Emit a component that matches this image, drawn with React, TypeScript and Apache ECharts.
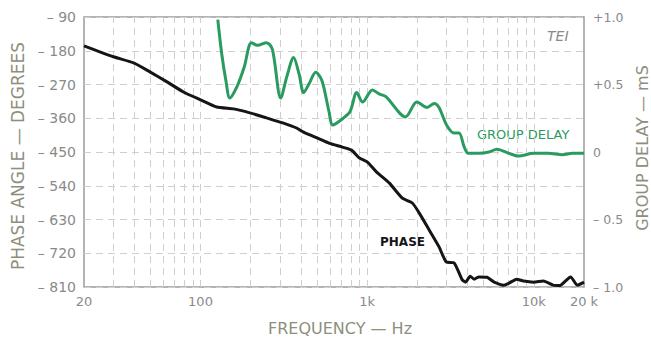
import React, { useEffect, useRef } from "react";
import * as echarts from "echarts";

const phaseFreq = [20, 30, 40, 50, 63, 79, 100, 125, 158, 189, 249, 315, 377, 415, 516, 594, 711, 805, 899, 1004, 1136, 1360, 1626, 1866, 2055, 2356, 2700, 2978, 3325, 3720, 3900, 4150, 4383, 4690, 5240, 5780, 6620, 7080, 7880, 8670, 9970, 11410, 13050, 14320, 16620, 18240, 20000];
const phaseDeg = [-167, -196, -213, -237, -263, -290, -311, -330, -335, -343, -359, -373, -386, -397, -415, -427, -437, -445, -466, -477, -503, -533, -573, -586, -613, -658, -703, -743, -746, -791, -797, -781, -789, -783, -784, -797, -805, -800, -789, -794, -797, -794, -805, -806, -783, -805, -797];

const delayFreq = [127, 134, 142, 150, 165, 183, 202, 220, 249, 270, 303, 330, 362, 390, 416, 450, 491, 535, 590, 622, 718, 790, 866, 938, 1075, 1180, 1295, 1700, 1986, 2289, 2524, 2700, 2995, 3325, 3560, 3815, 4030, 4690, 5380, 6000, 7080, 8100, 9970, 12180, 14900, 17040, 20000];
const delayMs = [0.98, 0.73, 0.53, 0.40, 0.48, 0.63, 0.81, 0.79, 0.81, 0.76, 0.40, 0.56, 0.70, 0.58, 0.44, 0.51, 0.59, 0.53, 0.30, 0.20, 0.25, 0.30, 0.44, 0.37, 0.46, 0.43, 0.41, 0.26, 0.37, 0.33, 0.36, 0.33, 0.20, 0.14, 0.14, 0.04, -0.01, -0.01, 0.00, 0.02, -0.01, -0.03, -0.01, -0.01, -0.02, -0.01, -0.01];

const xTickValues = [20, 100, 1000, 10000, 20000];
const xTickLabels = ["20", "100", "1k", "10k", "20 k"];
const gridFreqs = [30, 40, 50, 60, 70, 80, 90, 100, 200, 300, 400, 500, 600, 700, 800, 900, 1000, 2000, 3000, 4000, 5000, 6000, 7000, 8000, 9000, 10000];

const FONT = "DejaVu Sans";
const LABEL = "#8a8a8a";
const NAME = "#8d8f7c";
const GREEN = "#2a9b60";

export default function App() {
  const ref = useRef<HTMLDivElement>(null);
  useEffect(() => {
    const chart = echarts.init(ref.current!, undefined, { renderer: "svg" });
    chart.setOption({
      animation: false,
      backgroundColor: "#ffffff",
      grid: { left: 84, right: 67, top: 17, bottom: 51, outerBoundsMode: "none", containLabel: false, show: true, borderColor: "#9a9a9a", borderWidth: 1.5, backgroundColor: "transparent" },
      xAxis: {
        type: "log",
        logBase: 10,
        min: 20,
        max: 20000,
        axisLine: { show: false },
        axisTick: { show: false },
        splitLine: { show: false },
        axisLabel: {
          customValues: xTickValues,
          color: LABEL,
          fontFamily: FONT,
          fontSize: 13,
          margin: 8,
          formatter: (v: number) => {
            const i = xTickValues.findIndex((t) => Math.abs(t - v) / t < 0.01);
            return i >= 0 ? xTickLabels[i] : "";
          },
        },
        name: "FREQUENCY — Hz",
        nameLocation: "middle",
        nameGap: 33,
        nameTextStyle: { color: NAME, fontFamily: FONT, fontSize: 16, padding: [0, 0, 0, 12] },
      },
      yAxis: [
        {
          type: "value",
          min: -810,
          max: -90,
          interval: 90,
          axisLine: { show: false },
          axisTick: { show: false },
          splitLine: { show: true, lineStyle: { color: "#cfcfcf", type: [7, 5], width: 1 } },
          axisLabel: {
            color: LABEL,
            fontFamily: FONT,
            fontSize: 14,
            margin: 8,
            formatter: (v: number) => "– " + Math.abs(v),
          },
          name: "PHASE ANGLE — DEGREES",
          nameLocation: "middle",
          nameRotate: 90,
          nameGap: 57,
          nameTextStyle: { color: NAME, fontFamily: FONT, fontSize: 17, padding: [0, 8, 0, 0] },
        },
        {
          type: "value",
          min: -1,
          max: 1,
          interval: 0.5,
          position: "right",
          axisLine: { show: false },
          axisTick: { show: false },
          splitLine: { show: false },
          axisLabel: {
            color: LABEL,
            fontFamily: FONT,
            fontSize: 12.5,
            margin: 9,
            formatter: (v: number) => (v > 0 ? "+" + v.toFixed(1) : v < 0 ? "– " + Math.abs(v).toFixed(1) : "0"),
          },
          name: "GROUP DELAY — mS",
          nameLocation: "middle",
          nameRotate: 90,
          nameGap: 46,
          nameTextStyle: { color: NAME, fontFamily: FONT, fontSize: 16, padding: [0, 0, 0, 8] },
        },
      ],
      series: [
        {
          type: "line",
          yAxisIndex: 0,
          data: phaseFreq.map((f, i) => [f, phaseDeg[i]]),
          showSymbol: false,
          smooth: 0.2,
          lineStyle: { color: "#151515", width: 3 },
          z: 3,
          markLine: {
            silent: true,
            symbol: "none",
            label: { show: false },
            lineStyle: { color: "#cfcfcf", type: [7, 5], width: 1 },
            data: gridFreqs.map((f) => ({ xAxis: f })),
            z: 1,
          },
        },
        {
          type: "line",
          yAxisIndex: 1,
          data: delayFreq.map((f, i) => [f, delayMs[i]]),
          showSymbol: false,
          smooth: 0.3,
          lineStyle: { color: GREEN, width: 3 },
          z: 3,
        },
      ],
      graphic: [
        { type: "text", left: 477, top: 128, style: { text: "GROUP DELAY", fill: GREEN, font: `13px "${FONT}"` } },
        { type: "text", left: 380, top: 236, style: { text: "PHASE", fill: "#151515", font: `bold 12px "${FONT}"` } },
        { type: "text", left: 547, top: 29, style: { text: "TEI", fill: "#8a8a8a", font: `italic 14px "${FONT}"` } },
      ],
    });
    return () => chart.dispose();
  }, []);
  return <div ref={ref} style={{ position: "fixed", left: 0, top: 0, width: 651, height: 338 }} />;
}
